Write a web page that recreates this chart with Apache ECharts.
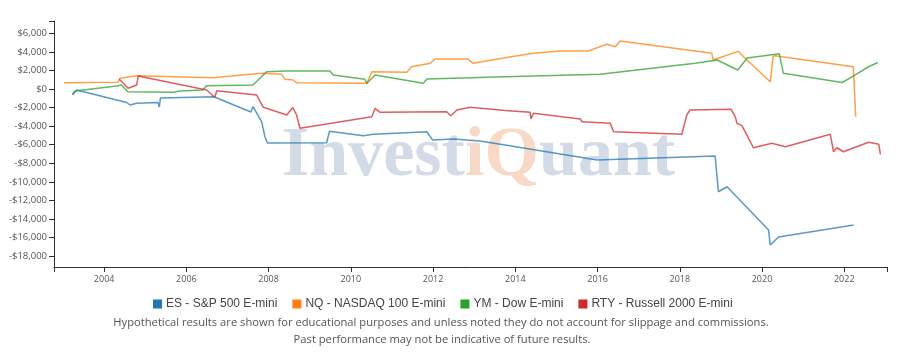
<!DOCTYPE html>
<html>
<head>
<meta charset="utf-8">
<script src="https://cdn.jsdelivr.net/npm/echarts@6/dist/echarts.min.js"></script>
<style>
html,body{margin:0;padding:0;background:#fff;}
#chart{width:923px;height:356px;}
</style>
</head>
<body>
<div id="chart"></div>
<script>
// ---- data (decimal year, $ value) ----
const seriesNames = ['ES - S&P 500 E-mini', 'NQ - NASDAQ 100 E-mini', 'YM - Dow E-mini', 'RTY - Russell 2000 E-mini'];
const xTicks = [2004, 2006, 2008, 2010, 2012, 2014, 2016, 2018, 2020, 2022];
const yTicks = [-18000, -16000, -14000, -12000, -10000, -8000, -6000, -4000, -2000, 0, 2000, 4000, 6000];

const esPoints = [
  [2003.23, -650], [2003.33, -110], [2004.55, -1450], [2004.63, -1720], [2004.79, -1540],
  [2005.31, -1450], [2005.34, -1940], [2005.37, -970], [2006.67, -830], [2007.57, -2480],
  [2007.62, -1910], [2007.83, -3520], [2007.91, -5140], [2007.97, -5820], [2009.41, -5790],
  [2009.48, -4560], [2010.30, -5030], [2010.55, -4880], [2011.85, -4600], [2011.99, -5500],
  [2012.49, -5390], [2013.14, -5600], [2013.75, -6030], [2015.99, -7650], [2018.86, -7220],
  [2018.94, -11070], [2019.15, -10530], [2020.16, -15190], [2020.20, -16810], [2020.40, -15950],
  [2022.23, -14660]
];
const nqPoints = [
  [2003.02, 680], [2004.34, 720], [2004.38, 1150], [2004.79, 1430], [2006.65, 1220],
  [2007.55, 1580], [2007.86, 1690], [2008.32, 1580], [2008.40, 1045], [2008.59, 970],
  [2008.68, 680], [2010.30, 610], [2010.39, 610], [2010.51, 1860], [2011.36, 1800],
  [2011.48, 2400], [2011.93, 2770], [2012.05, 3230], [2012.85, 3230], [2012.97, 2770],
  [2013.75, 3370], [2014.43, 3850], [2015.09, 4100], [2015.77, 4100], [2016.23, 4820],
  [2016.43, 4560], [2016.55, 5170], [2018.78, 3850], [2018.81, 3130], [2019.42, 4060],
  [2019.57, 3390], [2020.20, 790], [2020.27, 3500], [2020.32, 3590], [2020.49, 3480],
  [2022.22, 2400], [2022.28, -2990]
];
const ymPoints = [
  [2003.23, -540], [2003.29, -220], [2004.30, 320], [2004.42, 430], [2004.58, -290],
  [2005.68, -360], [2005.72, -570], [2005.84, -220], [2006.40, -110], [2006.49, 360],
  [2007.62, 430], [2007.95, 1860], [2008.40, 1940], [2009.49, 1940], [2009.57, 1510],
  [2010.34, 1045], [2010.39, 614], [2010.59, 1510], [2011.76, 614], [2011.85, 1080],
  [2013.75, 1330], [2016.06, 1580], [2018.37, 2770], [2018.91, 3130], [2019.41, 2050],
  [2019.64, 3340], [2020.42, 3790], [2020.52, 1690], [2021.95, 700], [2022.20, 1330],
  [2022.59, 2400], [2022.82, 2860]
];
const rtyPoints = [
  [2004.37, 1045], [2004.58, 80], [2004.79, 430], [2004.83, 1400], [2006.49, -110],
  [2006.69, -890], [2006.74, -180], [2007.71, -650], [2007.87, -1970], [2008.44, -2800],
  [2008.59, -1990], [2008.68, -2800], [2008.76, -4230], [2010.51, -2990], [2010.59, -2080],
  [2010.71, -2510], [2012.33, -2450], [2012.43, -2880], [2012.58, -2260], [2012.90, -1970],
  [2013.75, -2320], [2014.36, -2510], [2014.38, -3230], [2014.44, -2620], [2015.58, -3230],
  [2015.62, -3520], [2016.31, -3700], [2016.39, -4600], [2018.05, -4880], [2018.17, -2800],
  [2018.25, -2260], [2019.25, -2190], [2019.35, -2990], [2019.39, -3700], [2019.51, -3950],
  [2019.59, -4600], [2019.79, -6330], [2020.24, -5850], [2020.57, -6220], [2021.66, -4880],
  [2021.74, -6760], [2021.82, -6330], [2021.98, -6760], [2022.59, -5740], [2022.84, -5960],
  [2022.88, -7040]
];

const colors = ['#1f77b4', '#ff7f0e', '#2ca02c', '#d62728'];
const allPoints = [esPoints, nqPoints, ymPoints, rtyPoints];

const X_MIN = 2002.78, X_MAX = 2023.04;
const Y_MIN = -19180, Y_MAX = 7330;

function money(v) {
  const s = '$' + Math.abs(v).toLocaleString('en-US');
  return v < 0 ? '-' + s : s;
}

const chart = echarts.init(document.getElementById('chart'), null, {renderer: 'canvas'});
const axisColor = '#333';
chart.setOption({
  animation: false,
  backgroundColor: '#fff',
  color: colors,
  grid: {left: 54, right: 36, top: 21, bottom: 89, containLabel: false},
  xAxis: {
    type: 'value', min: X_MIN, max: X_MAX,
    axisLine: {show: true, onZero: false, lineStyle: {color: axisColor, width: 1}},
    axisTick: {show: true, length: 5, customValues: [X_MIN].concat(xTicks, [X_MAX]), lineStyle: {color: axisColor}},
    axisLabel: {customValues: xTicks, formatter: v => String(Math.round(v)), color: '#555', fontSize: 9, fontFamily: 'Open Sans', margin: 8},
    splitLine: {show: false}
  },
  yAxis: {
    type: 'value', min: Y_MIN, max: Y_MAX,
    axisLine: {show: true, lineStyle: {color: axisColor, width: 1}},
    axisTick: {show: true, length: 5, customValues: yTicks.concat([Y_MAX]), lineStyle: {color: axisColor}},
    axisLabel: {customValues: yTicks, formatter: money, color: '#555', fontSize: 9.5, fontFamily: 'Open Sans', margin: 7},
    splitLine: {show: false}
  },
  legend: {
    left: 148, top: 293, icon: 'rect', itemWidth: 9, itemHeight: 9, itemGap: 15,
    textStyle: {color: '#444', fontSize: 12, fontFamily: 'Liberation Sans', padding: [0, 0, 0, -1]},
    data: seriesNames
  },
  graphic: [
    {type: 'text', z: -10, x: 282, y: 157, silent: true,
      style: {text: 'Invest', font: 'bold 70px "Liberation Serif"', fill: '#d2dbe6', verticalAlign: 'middle', align: 'left'}},
    {type: 'text', z: -10, x: 465, y: 157, silent: true,
      style: {text: 'iQ', font: 'bold 70px "Liberation Serif"', fill: '#f8d9c7', verticalAlign: 'middle', align: 'left'}},
    {type: 'text', z: -10, x: 539, y: 157, silent: true,
      style: {text: 'uant', font: 'bold 70px "Liberation Serif"', fill: '#d2dbe6', verticalAlign: 'middle', align: 'left'}},
    {type: 'text', x: 441, y: 323, silent: true,
      style: {text: 'Hypothetical results are shown for educational purposes and unless noted they do not account for slippage and commissions.', font: '11.2px "Open Sans"', fill: '#555', align: 'center', verticalAlign: 'middle'}},
    {type: 'text', x: 442, y: 340, silent: true,
      style: {text: 'Past performance may not be indicative of future results.', font: '11.2px "Open Sans"', fill: '#555', align: 'center', verticalAlign: 'middle'}}
  ],
  series: seriesNames.map((name, i) => ({
    name: name, type: 'line', data: allPoints[i], showSymbol: false, symbol: 'none',
    lineStyle: {width: 1.5, color: colors[i], opacity: 0.75},
    itemStyle: {color: colors[i]},
    z: 5
  }))
});
</script>
</body>
</html>
